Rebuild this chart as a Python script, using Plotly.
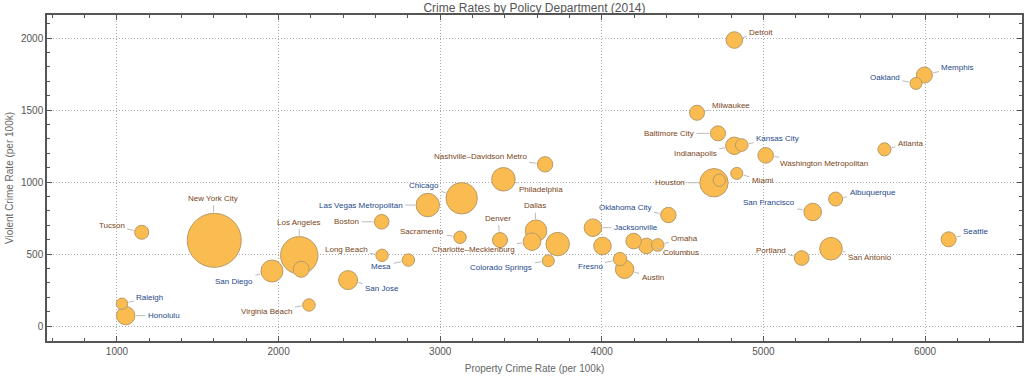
import numpy as np
import plotly.graph_objects as go

# ---------------- data ----------------
cities = [
    "New York City", "Los Angeles", "El Paso*", "Chicago", "Houston", "Houston-area*",
    "Phoenix*", "Philadelphia", "San Antonio", "San Diego", "Dallas", "Charlotte–Mecklenburg",
    "Las Vegas Metropolitan", "San Jose", "Honolulu", "Raleigh", "Austin", "Fresno",
    "Jacksonville", "Fort Worth*", "San Francisco", "Indianapolis", "Kansas City",
    "Columbus", "Omaha", "Louisville*", "Detroit", "Washington Metropolitan",
    "Nashville–Davidson Metro", "Denver", "Boston", "Memphis", "Oakland", "Seattle",
    "Oklahoma City", "Portland", "Baltimore City", "Milwaukee", "Tucson", "Albuquerque",
    "Atlanta", "Sacramento", "Long Beach", "Mesa", "Virginia Beach", "Colorado Springs",
    "Miami",
]
property_rate = [
    1602, 2128, 2140, 3133, 4694, 4727,
    3727, 3391, 5418, 1959, 3593, 3568,
    2923, 2430, 1054, 1031, 4141, 4113,
    3945, 4004, 5305, 4820, 4866,
    4276, 4346, 4197, 4820, 5014,
    3649, 3370, 2638, 5996, 5944, 6146,
    4412, 5237, 4719, 4589, 1153, 5447,
    5749, 3123, 2640, 2803, 2188, 3669,
    4835,
]
violent_rate = [
    595, 491, 394, 887, 995, 1012,
    569, 1019, 537, 382, 662, 586,
    840, 319, 72, 155, 394, 465,
    683, 556, 792, 1252, 1257,
    556, 563, 590, 1986, 1185,
    1123, 597, 724, 1743, 1685, 602,
    771, 472, 1338, 1481, 651, 882,
    1227, 616, 491, 458, 146, 453,
    1060,
]
population_k = [
    8400, 4030, 740, 2840, 2320, 440,
    1580, 1600, 1470, 1390, 1340, 890,
    1580, 1040, 975, 375, 975, 515,
    890, 890, 890, 870, 460,
    700, 460, 700, 790, 700,
    680, 650, 615, 740, 415, 650,
    680, 615, 650, 650, 565, 565,
    490, 445, 445, 445, 445, 415,
    415,
]

# ---------------- label layout (pixel offsets of label centre from bubble) ----------------
label_offsets = {
    "Tucson": (-30, -7), "New York City": (-1, -42), "Raleigh": (28, -6),
    "Honolulu": (38, 0), "Los Angeles": (0, -33), "San Diego": (-38, 10),
    "Virginia Beach": (-42, 6), "Las Vegas Metropolitan": (-67, 0), "Boston": (-35, 0),
    "Long Beach": (-36, -6), "San Jose": (34, 8), "Mesa": (-27, 6), "Chicago": (-38, -13),
    "Sacramento": (-38, -6), "Nashville–Davidson Metro": (-65, -8), "Philadelphia": (38, 10),
    "Denver": (-2, -22), "Dallas": (-1, -25), "Charlotte–Mecklenburg": (-59, 8),
    "Colorado Springs": (-47, 7), "Oklahoma City": (-43, -8), "Jacksonville": (43, 0),
    "Omaha": (27, -6), "Columbus": (35, 7), "Fresno": (-30, 7), "Austin": (28, 8),
    "Houston": (-44, 0), "Detroit": (27, -8), "Milwaukee": (34, -7),
    "Baltimore City": (-49, 0), "Kansas City": (36, -7), "Indianapolis": (-39, 8),
    "Washington Metropolitan": (58, 8), "Miami": (26, 7), "Atlanta": (26, -6),
    "Memphis": (33, -8), "Oakland": (-31, -6), "Albuquerque": (37, -7),
    "San Francisco": (-44, -9), "Portland": (-31, -8), "San Antonio": (39, 9),
    "Seattle": (27, -8),
}
blue_labels = {
    "Raleigh", "Honolulu", "San Diego", "San Jose", "Las Vegas Metropolitan", "Mesa",
    "Chicago", "Colorado Springs", "Oklahoma City", "Jacksonville", "Fresno",
    "Kansas City", "Oakland", "Memphis", "Albuquerque", "Seattle", "San Francisco",
}

FONT = "Liberation Sans, Arial, sans-serif"

pop = np.array(population_k, dtype=float)
diam = 54.0 * np.sqrt(pop / pop.max())

fig = go.Figure()
fig.add_trace(go.Scatter(
    x=property_rate, y=violent_rate, mode="markers",
    text=[c.rstrip("*") for c in cities],
    marker=dict(size=diam, sizemode="diameter", color="#FABC50",
                opacity=1, line=dict(color="#B89A66", width=1)),
    hovertemplate="%{text}<br>Property: %{x}<br>Violent: %{y}<extra></extra>",
))

annotations = []
for c, xv, yv, d in zip(cities, property_rate, violent_rate, diam):
    if c not in label_offsets:
        continue
    ax, ay = label_offsets[c]
    annotations.append(dict(
        x=xv, y=yv, xref="x", yref="y", text=c, showarrow=True,
        ax=ax, ay=ay, arrowhead=0, arrowwidth=1, arrowcolor="#BBBBBB",
        standoff=d / 2 + 1, startstandoff=1,
        font=dict(size=8, family=FONT,
                  color="#24488a" if c in blue_labels else "#7a4518"),
    ))

axis_common = dict(
    showline=True, linecolor="#555555", linewidth=1.5, mirror="allticks",
    ticks="inside", ticklen=5, tickcolor="#555555", tickwidth=1,
    showgrid=True, gridcolor="#AAAAAA", griddash="1px,2px", gridwidth=1,
    zeroline=False, automargin=False,
    tickfont=dict(size=10, color="#555555", family=FONT),
)

fig.update_layout(
    width=1024, height=377,
    margin=dict(l=47, r=2, t=15, b=36),
    paper_bgcolor="white", plot_bgcolor="white",
    showlegend=False,
    title=dict(text="Crime Rates by Policy Department (2014)", x=0.5, xref="paper",
               y=1 - 8 / 377, yref="container", yanchor="middle", automargin=False,
               font=dict(size=12, color="#555555", family=FONT)),
    xaxis=dict(range=[567, 6600], dtick=1000, tick0=0,
               minor=dict(dtick=200, ticks="inside", ticklen=3, tickcolor="#555555", showgrid=False),
               title=dict(text="Property Crime Rate (per 100k)", standoff=9,
                          font=dict(size=10, color="#666666", family=FONT)),
               **axis_common),
    yaxis=dict(range=[-104, 2160], dtick=500, tick0=0,
               minor=dict(dtick=100, ticks="inside", ticklen=3, tickcolor="#555555", showgrid=False),
               title=dict(text="Violent Crime Rate (per 100k)", standoff=6,
                          font=dict(size=10, color="#666666", family=FONT)),
               **axis_common),
    annotations=annotations,
)

fig.write_html("out.html", config={"displayModeBar": False},
               post_script="document.body.style.margin='0';document.body.style.overflow='hidden';")
